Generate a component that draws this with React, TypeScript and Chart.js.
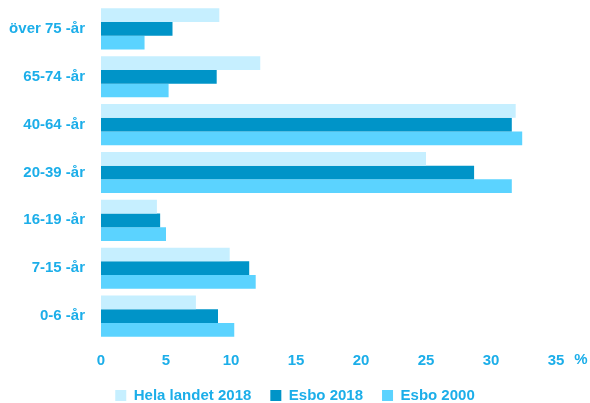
import React, { useEffect, useRef } from "react";
import { Chart, registerables } from "chart.js";

Chart.register(...registerables);

const categories = ["över 75 -år", "65-74 -år", "40-64 -år", "20-39 -år", "16-19 -år", "7-15 -år", "0-6 -år"];
const helaLandet2018 = [9.1, 12.25, 31.9, 25.0, 4.3, 9.9, 7.3];
const esbo2018 = [5.5, 8.9, 31.6, 28.7, 4.55, 11.4, 9.0];
const esbo2000 = [3.35, 5.2, 32.4, 31.6, 5.0, 11.9, 10.25];
const xTicks = [0, 5, 10, 15, 20, 25, 30, 35];
const unitLabel = "%";

const TEXT = "#1CAEE9";
const FAMILY = "'Liberation Sans', Arial, sans-serif";
const FONT = { family: FAMILY, size: 15, weight: "bold" as const, lineHeight: 1.2 };

const unitPlugin = {
  id: "unitLabel",
  afterLayout(chart: any) {
    const lg = chart.legend;
    if (lg) {
      const w = chart.width;
      const shift = (w - (lg.right - lg.left)) / 2 - lg.left;
      lg.left += shift;
      lg.right += shift;
    }
  },
  afterDraw(chart: any) {
    const ctx = chart.ctx;
    const xs = chart.scales.x;
    const last = xs.getPixelForValue(xTicks[xTicks.length - 1]);
    ctx.save();
    ctx.font = `bold ${FONT.size}px ${FAMILY}`;
    ctx.fillStyle = TEXT;
    ctx.textAlign = "center";
    ctx.textBaseline = "middle";
    ctx.fillText(unitLabel, last + 25, chart.chartArea.bottom + 20);
    ctx.restore();
  },
};

export default function App() {
  const ref = useRef<HTMLCanvasElement>(null);
  useEffect(() => {
    if (!ref.current) return;
    const chart = new Chart(ref.current, {
      type: "bar",
      data: {
        labels: categories,
        datasets: [
          { label: "Hela landet 2018", data: helaLandet2018, backgroundColor: "#C6EFFF" },
          { label: "Esbo 2018", data: esbo2018, backgroundColor: "#0094C8" },
          { label: "Esbo 2000", data: esbo2000, backgroundColor: "#5BD3FF" },
        ],
      },
      options: {
        indexAxis: "y",
        animation: false,
        responsive: false,
        maintainAspectRatio: false,
        datasets: { bar: { categoryPercentage: 0.86, barPercentage: 1 } },
        layout: { padding: { left: 9, right: 34, top: 5, bottom: 0 } },
        scales: {
          x: {
            min: 0,
            max: 35,
            afterBuildTicks: (s: any) => {
              s.ticks = xTicks.map((v) => ({ value: v }));
            },
            afterFit: (s: any) => {
              s.height = 29;
            },
            grid: { display: false, drawTicks: false },
            border: { display: false },
            ticks: { color: TEXT, font: FONT, padding: 12, maxRotation: 0 },
          },
          y: {
            afterFit: (s: any) => {
              s.paddingTop = 0;
              s.paddingBottom = 0;
              s.width = 92;
            },
            grid: { display: false, drawTicks: false },
            border: { display: false },
            ticks: { color: TEXT, font: FONT, padding: 16 },
          },
        },
        plugins: {
          legend: {
            position: "bottom",
            maxHeight: 34,
            labels: {
              color: TEXT,
              font: FONT,
              boxWidth: 11,
              boxHeight: 11,
              padding: 19,
            },
          },
          tooltip: { enabled: false },
        },
      },
      plugins: [unitPlugin],
    });
    return () => chart.destroy();
  }, []);
  return (
    <div style={{ position: "fixed", left: 0, top: 0, width: 590, height: 403, background: "#fff" }}>
      <canvas ref={ref} width={590} height={403} style={{ display: "block" }} />
    </div>
  );
}
